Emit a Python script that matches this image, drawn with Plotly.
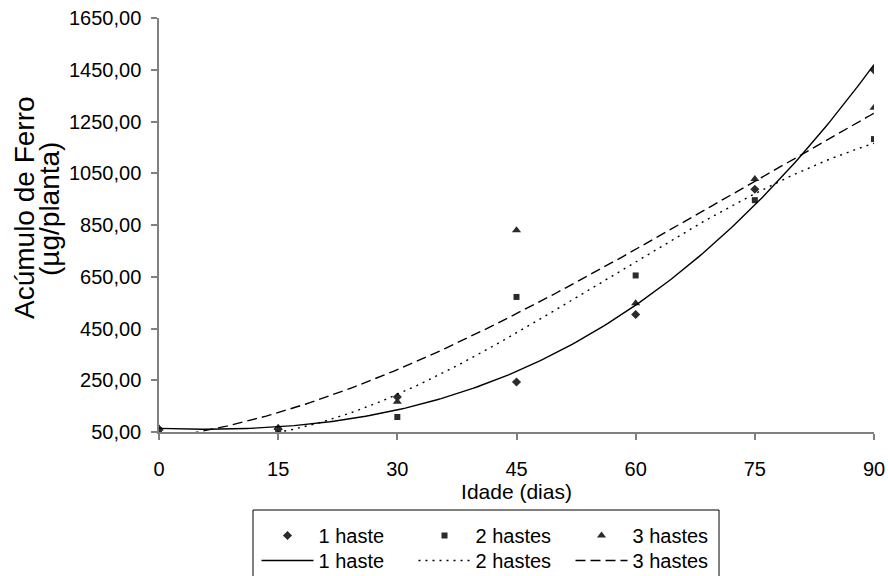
import numpy as np
import plotly.graph_objects as go

# Idade das plantas (dias) e acúmulo de ferro (µg/planta)
dias = [0, 15, 30, 45, 60, 75, 90]
haste_1 = [60, 62, 185, 243, 504, 988, 1449]
hastes_2 = [56, 50, 108, 572, 655, 946, 1182]
hastes_3 = [64, 66, 167, 830, 548, 1028, 1303]

serie_nomes = ["1 haste", "2 hastes", "3 hastes"]
serie_dados = [haste_1, hastes_2, hastes_3]
simbolos = ["diamond", "square", "triangle-up"]
tamanhos = [7, 6, 8]
tracos = ["solid", "2px,5px", "10px,5px"]

y_ticks = [50, 250, 450, 650, 850, 1050, 1250, 1450, 1650]
x_ticks = [0, 15, 30, 45, 60, 75, 90]

FONT = "Liberation Sans, Arial, sans-serif"

# geometria da área de plotagem (px)
W, H = 888, 576
ML, MR, MT, MB = 159, 14, 18, 144
PW, PH = W - ML - MR, H - MT - MB


def px_x(px):
    return (px - ML) / PW


def px_y(py):
    return (H - MB - py) / PH


fig = go.Figure()

# Pontos observados
for nome, ys, simb, tam in zip(serie_nomes, serie_dados, simbolos, tamanhos):
    fig.add_trace(go.Scatter(
        x=dias, y=ys, mode="markers", name=nome,
        marker=dict(symbol=simb, size=tam, color="#2b2b2b"),
        legend="legend", cliponaxis=True,
    ))

# Linhas de tendência polinomiais (3ª ordem) ajustadas aos pontos
x_fino = np.linspace(0, 90, 181)
for nome, ys, traco in zip(serie_nomes, serie_dados, tracos):
    coef = np.polyfit(dias, ys, 3)
    fig.add_trace(go.Scatter(
        x=x_fino, y=np.polyval(coef, x_fino), mode="lines", name=nome,
        line=dict(color="black", width=1.4, dash=traco),
        legend="legend2", cliponaxis=True,
    ))

axis_common = dict(
    showgrid=False, zeroline=False, showline=True,
    linecolor="#808080", linewidth=1.5,
    ticks="outside", ticklen=6, tickcolor="#808080", tickwidth=1.5,
    tickfont=dict(family=FONT, size=20, color="black"),
)

legend_common = dict(
    orientation="h", xanchor="left", yanchor="top",
    entrywidth=90, entrywidthmode="pixels", itemwidth=52,
    font=dict(family=FONT, size=20, color="black"),
    borderwidth=0, bgcolor="rgba(0,0,0,0)", tracegroupgap=0,
)

fig.update_layout(
    width=W, height=H,
    margin=dict(l=ML, r=MR, t=MT, b=MB, autoexpand=False),
    paper_bgcolor="white", plot_bgcolor="white",
    separators=",.",
    font=dict(family=FONT, size=20, color="black"),
    xaxis=dict(
        range=[0, 90], tickvals=x_ticks, ticklabelstandoff=12,
        title=dict(text="Idade (dias)", font=dict(family=FONT, size=21), standoff=6),
        **axis_common,
    ),
    yaxis=dict(
        range=[50, 1650], tickvals=y_ticks, tickformat=".2f", ticklabelstandoff=6,
        **axis_common,
    ),
    legend=dict(x=px_x(256.5), y=px_y(516), itemsizing="trace", **legend_common),
    legend2=dict(x=px_x(256.5), y=px_y(541), **legend_common),
    annotations=[
        dict(text="Acúmulo de Ferro", textangle=-90, xref="paper", yref="paper",
             x=px_x(24), y=px_y(208), xanchor="center", yanchor="middle",
             showarrow=False, font=dict(family=FONT, size=28, color="black")),
        dict(text="(µg/planta)", textangle=-90, xref="paper", yref="paper",
             x=px_x(49), y=px_y(209), xanchor="center", yanchor="middle",
             showarrow=False, font=dict(family=FONT, size=28, color="black")),
    ],
    shapes=[dict(
        type="rect", xref="paper", yref="paper",
        x0=px_x(253), x1=px_x(719), y0=px_y(510), y1=px_y(620),
        line=dict(color="black", width=1), fillcolor="rgba(0,0,0,0)",
    )],
)

fig.write_html("out.html")
